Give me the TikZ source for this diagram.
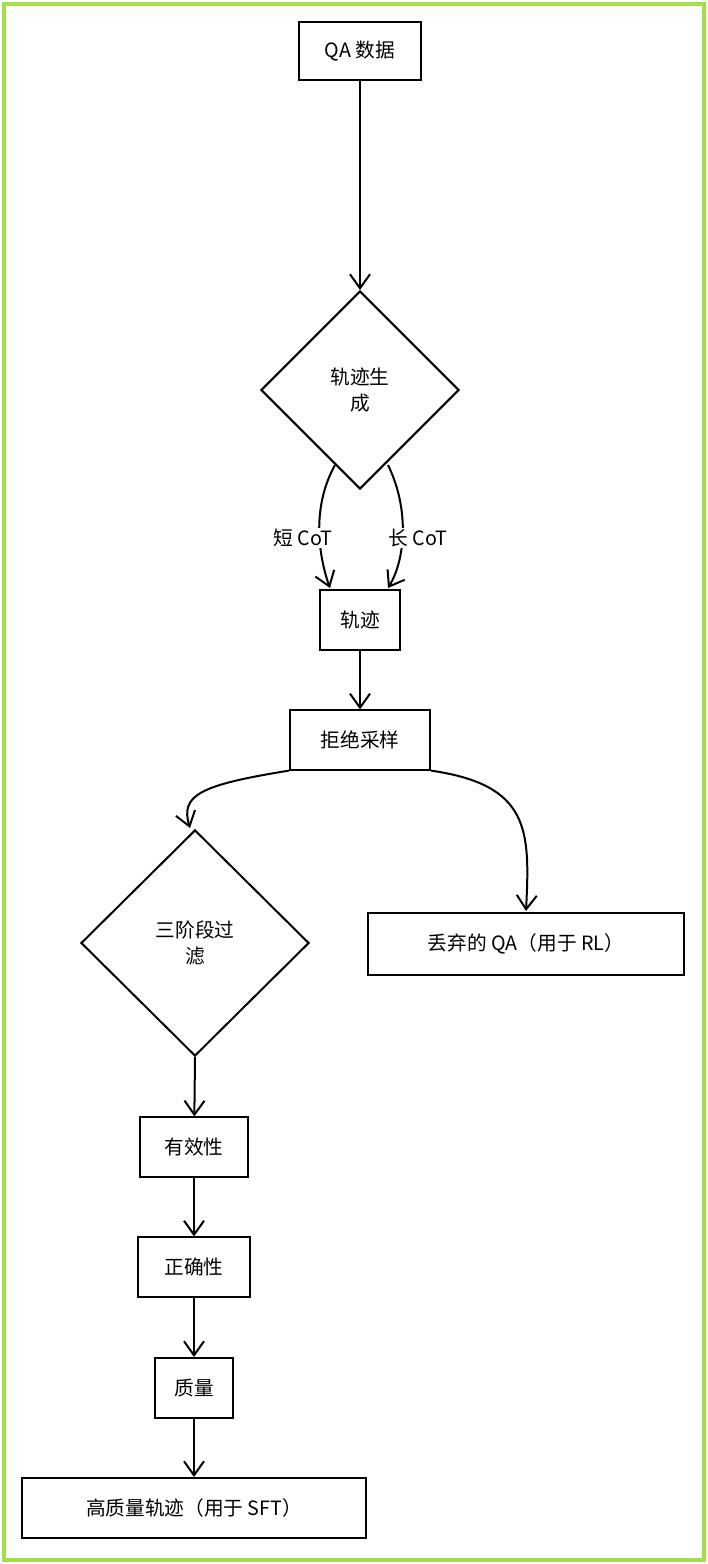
\documentclass[tikz,border=0pt]{standalone}
\usepackage{fontspec}
\newfontfamily\cjk{Noto Sans CJK SC}
\usetikzlibrary{arrows.meta,shapes.geometric}
\definecolor{framegreen}{HTML}{A3E048}
\tikzset{
  flowbox/.style = {draw=black, line width=0.5mm, align=center, inner sep=0pt, font=\cjk\fontsize{14}{18}\selectfont},
  flowdia/.style = {draw=black, line width=0.5mm, diamond, align=center, inner sep=0pt, aspect=1, font=\cjk\fontsize{14}{18}\selectfont},
  flowarr/.style = {line width=0.5mm, -{Straight Barb[length=3.5mm,width=5mm]}},
  edgelab/.style = {font=\cjk\fontsize{14}{18}\selectfont, fill=white, inner sep=1pt},
}
\begin{document}
\begin{tikzpicture}[x=0.025cm,y=-0.025cm]
  \useasboundingbox (0,0) rectangle (708,1564);
  \fill[white] (0,0) rectangle (708,1564);
  \draw[framegreen, line width=1.2mm] (4,4) rectangle (704,1560);
  % nodes
  \node [flowbox, minimum width=3.07cm, minimum height=1.45cm] (qa) at (360,51) {QA 数据};
  \node [flowdia, minimum width=4.95cm, minimum height=4.95cm] (gen) at (360,390) {轨迹生\\成};
  \node [flowbox, minimum width=2cm, minimum height=1.5cm] (traj) at (360,620) {轨迹};
  \node [flowbox, minimum width=3.5cm, minimum height=1.48cm] (rej) at (360,740) {拒绝采样};
  \node [flowdia, minimum width=5.7cm, minimum height=5.65cm] (filt) at (195,943) {三阶段过\\滤};
  \node [flowbox, minimum width=7.92cm, minimum height=1.55cm] (drop) at (526,944) {丢弃的 QA（用于 RL）};
  \node [flowbox, minimum width=2.7cm, minimum height=1.48cm] (valid) at (194,1147) {有效性};
  \node [flowbox, minimum width=2.8cm, minimum height=1.48cm] (corr) at (194,1267) {正确性};
  \node [flowbox, minimum width=1.95cm, minimum height=1.5cm] (qual) at (194,1388) {质量};
  \node [flowbox, minimum width=8.62cm, minimum height=1.5cm] (hq) at (194,1508) {高质量轨迹（用于 SFT）};
  % connectors
  \draw [flowarr] (qa) -- (gen.north);
  \draw [flowarr] (gen.south) ++(-25,-25) coordinate (ls) (ls) .. controls (310,510) and (320,560) .. (330,588) coordinate (le);
  \draw [flowarr] (gen.south) ++(28,-25) coordinate (rs) (rs) .. controls (410,510) and (405,560) .. (388,588) coordinate (re);
  \node [edgelab] (shortlab) at (303,538) {短 CoT};
  \node [edgelab] (longlab) at (418,538) {长 CoT};
  \draw [flowarr] (traj) -- (rej);
  \draw [flowarr] (rej.south west) .. controls (200,785) and (180,795) .. (190,828);
  \draw [flowarr] (rej.south east) .. controls (530,785) and (530,830) .. (526,911);
  \draw [flowarr] (filt.south) -- (valid);
  \draw [flowarr] (valid) -- (corr);
  \draw [flowarr] (corr) -- (qual);
  \draw [flowarr] (qual) -- (hq);
\end{tikzpicture}
\end{document}
